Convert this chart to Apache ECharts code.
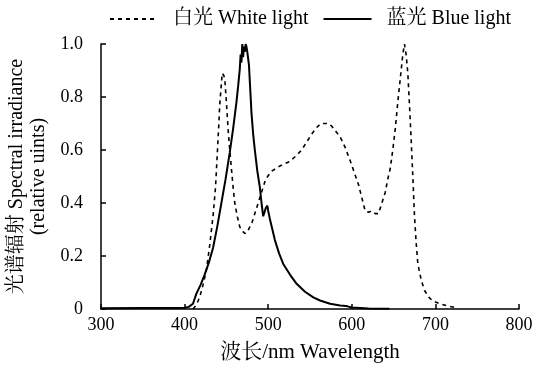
<!DOCTYPE html>
<html>
<head>
<meta charset="utf-8">
<script src="https://cdn.jsdelivr.net/npm/echarts@6/dist/echarts.min.js"></script>
<style>html,body{margin:0;padding:0;background:#fff}#c{width:538px;height:367px}</style>
</head>
<body>
<div id="c"></div>
<script>
var xTicks = [300, 400, 500, 600, 700, 800];
var yTicks = [0, 0.2, 0.4, 0.6, 0.8, 1.0];

var blueWl = [300,350,390,400,405,410,414,419,424,429,434,439,444,449,454,458,462,464,466,467,468,469,470,471,472,473,474,475,477,479,480,482,484,487,490,492,494,496,497,499,500,502,505,508,513,518,526,534,544,554,562,574,586,590,595,600,610,620,645];
var blueVal = [0.003,0.004,0.004,0.005,0.008,0.02,0.057,0.09,0.13,0.175,0.23,0.31,0.40,0.49,0.59,0.68,0.78,0.84,0.905,0.96,0.93,1.0,0.95,0.99,0.97,1.0,0.99,0.97,0.92,0.80,0.74,0.66,0.60,0.52,0.46,0.40,0.35,0.37,0.38,0.39,0.37,0.34,0.30,0.26,0.21,0.17,0.13,0.095,0.065,0.044,0.032,0.02,0.013,0.012,0.01,0.006,0.004,0.002,0.001];

var whiteWl = [410,414,418,422,426,430,434,437,439,441,442,444,445,446,447,448,450,452,454,456,458,460,463,466,469,472,475,478,481,484,488,492,497,504,514,526,534,540,546,552,558,563,568,572,576,581,586,592,598,603,608,612,616,620,624,628,632,636,640,643,646,649,652,655,658,661,663,665,667,669,671,673,675,677,679,683,687,692,697,705,713,723];
var whiteVal = [0,0.015,0.044,0.09,0.146,0.24,0.35,0.46,0.58,0.70,0.77,0.85,0.89,0.895,0.88,0.87,0.78,0.68,0.60,0.53,0.46,0.40,0.35,0.31,0.295,0.285,0.29,0.31,0.33,0.36,0.40,0.44,0.49,0.52,0.54,0.557,0.58,0.60,0.63,0.66,0.685,0.70,0.70,0.70,0.69,0.67,0.65,0.61,0.56,0.515,0.47,0.42,0.37,0.365,0.37,0.36,0.36,0.40,0.44,0.49,0.53,0.60,0.68,0.78,0.87,0.96,1.0,0.96,0.89,0.77,0.64,0.50,0.35,0.25,0.17,0.11,0.07,0.045,0.03,0.02,0.013,0.006];

var seriesNames = ['白光 White light', '蓝光 Blue light'];
var xName = '波长/nm Wavelength';
var yName = '光谱辐射 Spectral irradiance\n(relative uints)';

function pairs(xs, ys) { return xs.map(function (x, i) { return [x, ys[i]]; }); }

var FONT = '"Liberation Serif", "Noto Serif CJK SC", "Noto Sans CJK SC", serif';
var chart = echarts.init(document.getElementById('c'), null, { renderer: 'canvas' });
chart.setOption({
  animation: false,
  backgroundColor: '#fff',
  textStyle: { fontFamily: FONT, color: '#000' },
  legend: {
    left: 104, top: 4,
    itemWidth: 48, itemHeight: 14, itemGap: 14,
    itemStyle: { opacity: 0, borderWidth: 0 },
    textStyle: { fontFamily: FONT, fontSize: 20, color: '#000', padding: [0, 0, 0, 10] },
    data: seriesNames
  },
  grid: { left: 101, right: 19, top: 44, bottom: 58, containLabel: false, outerBoundsMode: 'none' },
  xAxis: {
    type: 'value', min: 300, max: 800, interval: 100,
    name: xName, nameLocation: 'middle', nameGap: 33,
    nameTextStyle: { fontFamily: FONT, fontSize: 21, color: '#000' },
    axisLine: { lineStyle: { color: '#000', width: 1.5 } },
    axisTick: { inside: true, length: 5, lineStyle: { color: '#000', width: 1.5 } },
    axisLabel: { fontFamily: FONT, fontSize: 18, color: '#000', margin: 7 },
    splitLine: { show: false }
  },
  yAxis: {
    type: 'value', min: 0, max: 1, interval: 0.2,
    name: yName, nameLocation: 'middle', nameGap: 40, nameRotate: 90,
    nameTextStyle: { fontFamily: FONT, fontSize: 20, color: '#000', lineHeight: 22 },
    axisLine: { show: true, lineStyle: { color: '#000', width: 1.5 } },
    axisTick: { show: true, inside: true, length: 5, lineStyle: { color: '#000', width: 1.5 } },
    axisLabel: { fontFamily: FONT, fontSize: 18, color: '#000', margin: 18,
      formatter: function (v) { return v === 0 ? '0' : v.toFixed(1); } },
    splitLine: { show: false }
  },
  series: [
    { name: seriesNames[0], type: 'line', data: pairs(whiteWl, whiteVal), symbol: 'none', smooth: false,
      lineStyle: { color: '#000', width: 1.6, type: [4, 4] }, itemStyle: { color: '#000' } },
    { name: seriesNames[1], type: 'line', data: pairs(blueWl, blueVal), symbol: 'none', smooth: false,
      lineStyle: { color: '#000', width: 2 }, itemStyle: { color: '#000' } }
  ]
});
</script>
</body>
</html>
